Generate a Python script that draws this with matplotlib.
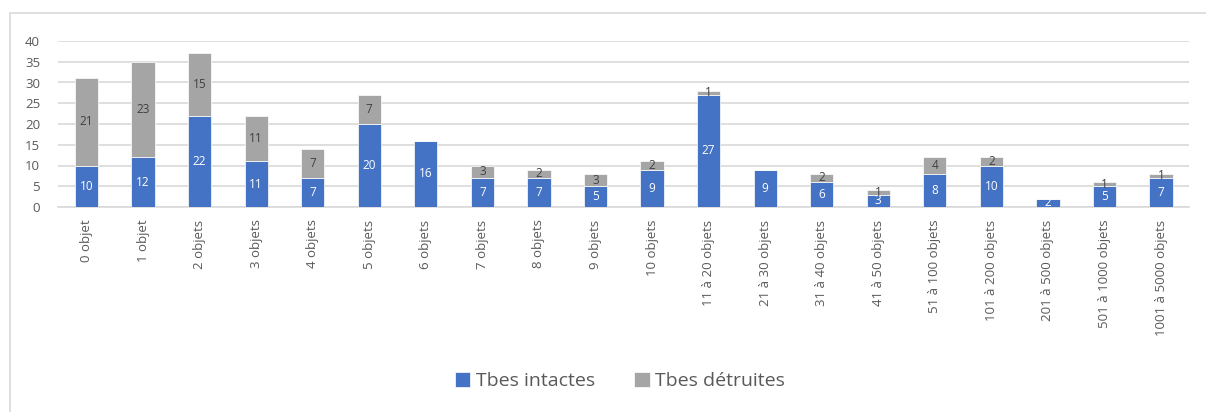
import numpy as np
import matplotlib.pyplot as plt
from matplotlib.patches import Rectangle

categories = ["0 objet", "1 objet", "2 objets", "3 objets", "4 objets", "5 objets",
              "6 objets", "7 objets", "8 objets", "9 objets", "10 objets",
              "11 à 20 objets", "21 à 30 objets", "31 à 40 objets", "41 à 50 objets",
              "51 à 100 objets", "101 à 200 objets", "201 à 500 objets",
              "501 à 1000 objets", "1001 à 5000 objets"]
intactes = [10, 12, 22, 11, 7, 20, 16, 7, 7, 5, 9, 27, 9, 6, 3, 8, 10, 2, 5, 7]
detruites = [21, 23, 15, 11, 7, 7, 0, 3, 2, 3, 2, 1, 0, 2, 1, 4, 2, 0, 1, 1]

BLUE = "#4472C4"
GREY = "#A5A5A5"
TEXT = "#595959"

plt.rcParams['font.family'] = ['Open Sans', 'DejaVu Sans']

fig = plt.figure(figsize=(12.06, 4.12), dpi=100)
# chart frame (clipped on the right and bottom like the reference)
fig.patches.append(Rectangle((10 / 1206, -0.1), 1.2, (1 - 13 / 412) + 0.1,
                             transform=fig.transFigure, fill=False,
                             edgecolor="#D9D9D9", linewidth=1.2))

ax = fig.add_axes([58.2 / 1206, 1 - 207 / 412, (1189.3 - 58.2) / 1206, (207 - 41) / 412])

x = np.arange(len(categories))
w = 0.41
b1 = ax.bar(x, intactes, w, color=BLUE, edgecolor="white", linewidth=0.5,
            label="Tbes intactes", zorder=3)
b2 = ax.bar(x, detruites, w, bottom=intactes, color=GREY, edgecolor="white",
            linewidth=0.5, label="Tbes détruites", zorder=3)

for i in range(len(categories)):
    if intactes[i]:
        ax.text(x[i], intactes[i] / 2, str(intactes[i]), ha="center", va="center",
                color="white", fontsize=8.5, zorder=4)
    if detruites[i]:
        ax.text(x[i], intactes[i] + detruites[i] / 2, str(detruites[i]),
                ha="center", va="center", color="#404040", fontsize=8.5, zorder=4)

ax.set_xlim(-0.5, len(categories) - 0.5)
ax.set_ylim(0, 40)
ax.set_yticks(range(0, 41, 5))
ax.set_xticks(x)
ax.set_xticklabels(categories, rotation=90, fontsize=9.5, color=TEXT)
ax.tick_params(axis="y", length=0, pad=13, labelsize=9.5, labelcolor=TEXT)
ax.tick_params(axis="x", length=0, pad=9)
ax.grid(axis="y", color="#D9D9D9", linewidth=1.2, zorder=0)
for s in ["top", "right", "left"]:
    ax.spines[s].set_visible(False)
ax.spines["bottom"].set_color("#D9D9D9")
ax.spines["bottom"].set_linewidth(1.2)

fig.legend(handles=[b1, b2], loc="center", bbox_to_anchor=(620 / 1206, 1 - 381 / 412),
           ncol=2, frameon=False, fontsize=14, labelcolor=TEXT,
           handlelength=0.8, handleheight=0.8, handletextpad=0.3, columnspacing=2.0)

fig.savefig("out.png", dpi=100)
